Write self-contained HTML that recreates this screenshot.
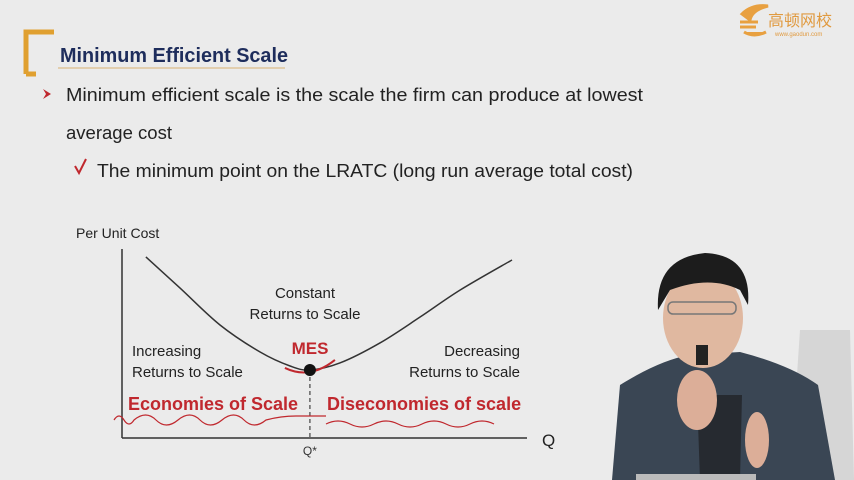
<!DOCTYPE html>
<html><head><meta charset="utf-8">
<style>
html,body{margin:0;padding:0;}
body{width:854px;height:480px;overflow:hidden;background:#ebebeb;position:relative;font-family:"Liberation Sans","Noto Sans CJK SC",sans-serif;}
</style></head>
<body>
<svg width="854" height="480" style="position:absolute;left:0;top:0">
  <path d="M26,74 L26,32 L54,32" fill="none" stroke="#e0a030" stroke-width="5"/>
  <line x1="26" y1="74" x2="36" y2="74" stroke="#e0a030" stroke-width="5"/>
  <line x1="58" y1="68" x2="285" y2="68" stroke="#d8b070" stroke-width="1"/>
  <text x="60" y="62" font-family="Liberation Sans" font-weight="bold" font-size="20" fill="#1e2d5c" textLength="228" lengthAdjust="spacingAndGlyphs">Minimum Efficient Scale</text>
  <g>
    <path d="M742,14 q10,-10 26,-8 q-16,4 -18,14 z M740,22 h18 M740,27 h16 M744,32 q10,6 22,0" fill="#e8a040" stroke="#e8a040" stroke-width="3"/>
    <text x="768" y="26" font-family="Noto Sans CJK SC" font-size="16" fill="#e09a40">高顿网校</text>
    <text x="775" y="36" font-family="Liberation Sans" font-size="6" fill="#e09a40">www.gaodun.com</text>
  </g>
  <path d="M43,89 L51,94 L43,99 L46,94 z" fill="#c0282e"/>
  <path d="M75,166 L79,173 L86,159" fill="none" stroke="#c0282e" stroke-width="2"/>
  <text x="66" y="101" font-size="18" fill="#222" textLength="577" lengthAdjust="spacingAndGlyphs">Minimum efficient scale is the scale the firm can produce at lowest</text>
  <text x="66" y="139" font-size="18" fill="#222" textLength="106" lengthAdjust="spacingAndGlyphs">average cost</text>
  <text x="97" y="177" font-size="18" fill="#222" textLength="536" lengthAdjust="spacingAndGlyphs">The minimum point on the LRATC (long run average total cost)</text>
  <g>
    <path d="M800,330 L850,330 L854,480 L790,480 Z" fill="#c8c8c8" opacity="0.6"/>
    <path d="M612,480 L620,385 Q660,360 690,355 L740,352 Q790,365 818,385 L835,480 Z" fill="#3a4654"/>
    <path d="M697,395 L742,395 L740,480 L700,480 Z" fill="#262a30"/>
    <ellipse cx="703" cy="318" rx="40" ry="50" fill="#e0b8a0"/>
    <path d="M658,310 Q655,258 705,253 Q752,255 748,305 L740,290 Q710,275 670,290 Z" fill="#1c1c1c"/>
    <rect x="668" y="302" width="68" height="12" rx="5" fill="none" stroke="#777" stroke-width="1.5"/>
    <ellipse cx="697" cy="400" rx="20" ry="30" fill="#dcae98"/>
    <rect x="696" y="345" width="12" height="20" fill="#222"/>
    <ellipse cx="757" cy="440" rx="12" ry="28" fill="#dcae98"/>
    <rect x="636" y="474" width="120" height="6" fill="#bbb"/>
  </g>
</svg>

<svg id="chart" width="854" height="480" style="position:absolute;left:0;top:0"></svg>
<script>
const quantities=[0.59,1.43,2.42,3.41,4.15,4.64,5.38,6.37,7.36,8.35,9.63];
const costs=[9.58,7.94,5.98,4.55,3.81,3.60,3.97,5.03,6.40,7.83,9.42];
const mesQ=4.64, mesCost=3.60;
const xAxisLabel="Q", yAxisLabel="Per Unit Cost", mesTick="Q*";
const X0=122,X1=527,Y0=438,Y1=249;
function sx(q){return X0+q*(X1-X0)/10;}
function sy(c){return Y0-c*(Y0-Y1)/10;}
const svg=document.getElementById('chart');
const NS='http://www.w3.org/2000/svg';
function mk(tag,attrs,txt){const e=document.createElementNS(NS,tag);for(const k in attrs)e.setAttribute(k,attrs[k]);if(txt!==undefined)e.textContent=txt;svg.appendChild(e);return e;}
let e;
e=mk('line',{x1:X0,y1:Y1,x2:X0,y2:Y0,stroke:'#333','stroke-width':1.5});


e=mk('line',{x1:X0,y1:Y0,x2:X1,y2:Y0,stroke:'#333','stroke-width':1.5});


const P=quantities.map((q,i)=>[sx(q),sy(costs[i])]);
let d='M'+P[0][0]+','+P[0][1];
for(let i=0;i<P.length-1;i++){const p0=P[i-1]||P[i],p1=P[i],p2=P[i+1],p3=P[i+2]||P[i+1];
d+=' C'+(p1[0]+(p2[0]-p0[0])/6)+','+(p1[1]+(p2[1]-p0[1])/6)+' '+(p2[0]-(p3[0]-p1[0])/6)+','+(p2[1]-(p3[1]-p1[1])/6)+' '+p2[0]+','+p2[1];}
e=mk('path',{d:d,fill:'none',stroke:'#333','stroke-width':1.5});


e=mk('line',{x1:sx(mesQ),y1:sy(mesCost),x2:sx(mesQ),y2:Y0,stroke:'#444','stroke-width':1.2,'stroke-dasharray':'4,3'});


e=mk('path',{d:'M'+(sx(mesQ)-25)+','+(sy(mesCost)-2)+' q25,12 50,-8',fill:'none',stroke:'#c0282e','stroke-width':2});


e=mk('circle',{cx:sx(mesQ),cy:sy(mesCost),r:6,fill:'#111'});


e=mk('text',{x:X1+15,y:Y0+8,'font-size':17,fill:'#222','font-family':'Liberation Sans'},xAxisLabel);


e=mk('text',{x:76,y:238,'font-size':14,fill:'#222','font-family':'Liberation Sans'},yAxisLabel);


e=mk('text',{x:sx(mesQ),y:Y0+17,'font-size':12,fill:'#333','text-anchor':'middle','font-family':'Liberation Sans'},mesTick);


const labels=[
 ['constant-label-1',305,298,'Constant',15,'#222','middle','normal'],
 ['constant-label-2',305,319,'Returns to Scale',15,'#222','middle','normal'],
 ['increasing-label-1',132,356,'Increasing',15,'#222','start','normal'],
 ['increasing-label-2',132,377,'Returns to Scale',15,'#222','start','normal'],
 ['decreasing-label-1',520,356,'Decreasing',15,'#222','end','normal'],
 ['decreasing-label-2',520,377,'Returns to Scale',15,'#222','end','normal'],
 ['mes-label',310,354,'MES',17,'#c0282e','middle','bold'],
 ['economies-label',128,410,'Economies of Scale',18,'#c0282e','start','bold'],
 ['diseconomies-label',327,410,'Diseconomies of scale',18,'#c0282e','start','bold']];
labels.forEach(l=>{e=mk('text',{x:l[1],y:l[2],'font-size':l[4],fill:l[5],'text-anchor':l[6],'font-weight':l[7],'font-family':'Liberation Sans'},l[3]);

});
e=mk('path',{d:'M114,420 q5,-8 10,0 t10,0 q12,-10 22,0 t22,0 t22,0 t22,0 t22,0 t22,0 q15,-4 30,-4 h30',fill:'none',stroke:'#c0282e','stroke-width':1.2});


e=mk('path',{d:'M326,424 q12,-6 24,0 t24,0 t24,0 t24,0 t24,0 t24,0 t24,0',fill:'none',stroke:'#c0282e','stroke-width':1.2});


</script>
</body></html>
